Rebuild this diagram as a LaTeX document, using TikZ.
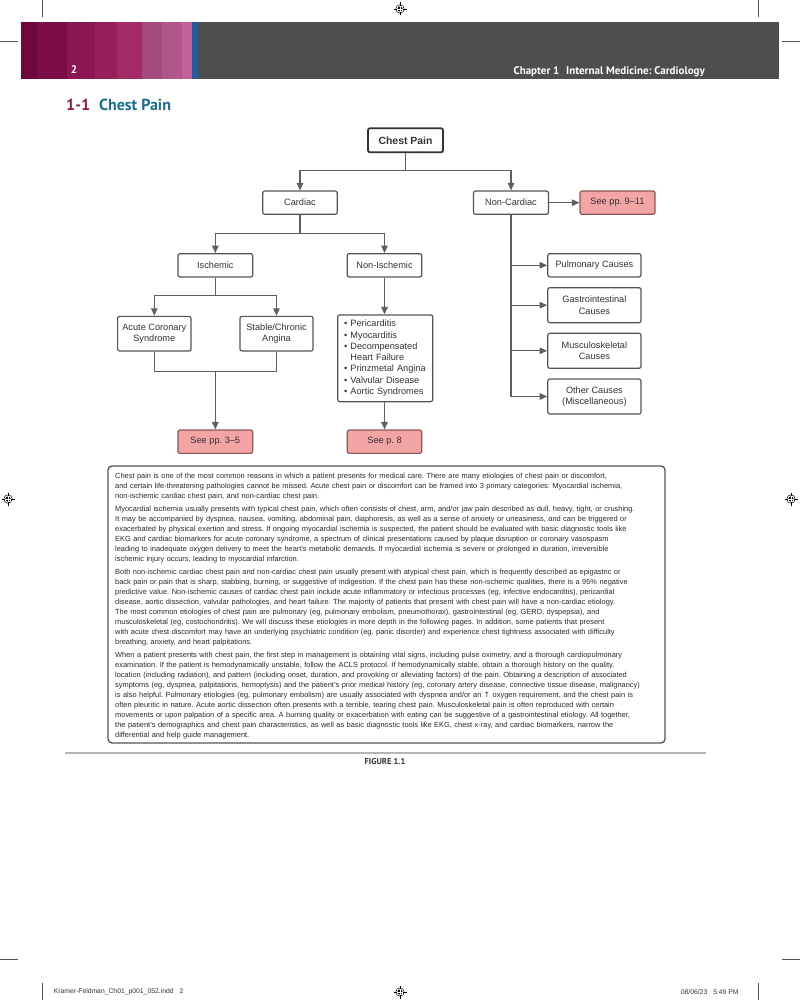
\documentclass[tikz,border=0pt]{standalone}
\usepackage{fontspec}
\setmainfont{Liberation Sans}
\newfontfamily\ptsans{PT Sans}
\newfontfamily\djv{DejaVu Sans}
\usetikzlibrary{arrows.meta}
\frenchspacing
\definecolor{bandA}{HTML}{6E083C}
\definecolor{bandB}{HTML}{7C0C48}
\definecolor{bandC}{HTML}{8A1752}
\definecolor{bandD}{HTML}{962059}
\definecolor{bandE}{HTML}{A52A68}
\definecolor{bandF}{HTML}{A34A7E}
\definecolor{bandG}{HTML}{B0568A}
\definecolor{bandH}{HTML}{C2609C}
\definecolor{bandblue}{HTML}{1F5FA0}
\definecolor{bandgray}{HTML}{4E4E4E}
\definecolor{titlered}{HTML}{8A1C4A}
\definecolor{titleblue}{HTML}{1B6F8F}
\definecolor{boxgray}{HTML}{555555}
\definecolor{lngray}{HTML}{5F5F5F}
\definecolor{txtgray}{HTML}{333333}
\definecolor{pinkfill}{HTML}{F3A5A5}
\definecolor{pinkdraw}{HTML}{8C5858}
\definecolor{sepgray}{HTML}{B5B5B5}
\definecolor{bodytext}{HTML}{2A2A2A}
\definecolor{markgray}{HTML}{555555}
\begin{document}
\begin{tikzpicture}[x=1pt,y=-1pt,
  box/.style={draw=boxgray, line width=1.2pt, rounded corners=2pt, fill=white,
    text=txtgray, font=\fontsize{9.2}{11.3}\selectfont, align=center, inner sep=0pt},
  pinkbox/.style={box, fill=pinkfill, draw=pinkdraw},
  conn/.style={draw=lngray, line width=1.2pt},
  arr/.style={conn, -{Triangle[length=7.5pt,width=6.5pt]}},
  regmark/.pic={
    \draw[line width=0.5pt] (0,0) circle (4.2);
    \draw[line width=0.5pt] (-6.5,0)--(6.5,0) (0,-6.5)--(0,6.5);
    \fill (0,0) circle (2.6);
    \draw[white, line width=0.5pt] (-2.6,0)--(2.6,0) (0,-2.6)--(0,2.6);
  }]
\useasboundingbox (0,0) rectangle (800,1000);
\fill[white] (0,0) rectangle (800,1000);

% crop and registration marks
\draw[markgray, line width=0.6pt] (42,0)--(42,17) (758,0)--(758,17)
  (0,41)--(18,41) (782,41)--(800,41)
  (42,983)--(42,1000) (758,983)--(758,1000)
  (0,959)--(18,959) (782,959)--(800,959);
\pic at (400,9) {regmark};
\pic at (8,499) {regmark};
\pic at (791,499) {regmark};
\pic at (400,992) {regmark};

% header band
\fill[bandA] (21,21.7) rectangle (37,79);
\fill[bandB] (37,21.7) rectangle (67,79);
\fill[bandC] (67,21.7) rectangle (95,79);
\fill[bandD] (95,21.7) rectangle (117,79);
\fill[bandE] (117,21.7) rectangle (142,79);
\fill[bandF] (142,21.7) rectangle (162,79);
\fill[bandG] (162,21.7) rectangle (182,79);
\fill[bandH] (182,21.7) rectangle (192,79);
\fill[bandblue] (192,21.7) rectangle (198,79);
\fill[bandgray] (198,21.7) rectangle (779,79);
\node[anchor=base, inner sep=0pt, text=white, font=\ptsans\bfseries\fontsize{11}{13}\selectfont] (pagenum) at (74,74) {2};
\node[anchor=base east, inner sep=0pt, text=white, font=\ptsans\bfseries\fontsize{11}{13}\selectfont] (chapter) at (705,74.5) {Chapter 1\hspace{4pt} Internal Medicine: Cardiology};

% title
\node[anchor=base west, inner sep=0pt, font=\ptsans\bfseries\fontsize{16}{18}\selectfont] (title) at (66,110.5) {\textcolor{titlered}{1-1}\hspace{5pt} \textcolor{titleblue}{Chest Pain}};

% flowchart nodes
\node[box, draw=txtgray, line width=1.8pt, font=\bfseries\fontsize{10.4}{12}\selectfont, minimum width=75, minimum height=24] (chest) at (405.5,140.3) {Chest Pain};
\node[box, minimum width=74.5, minimum height=23.3] (cardiac) at (300,202.7) {Cardiac};
\node[box, minimum width=75, minimum height=23.3] (noncardiac) at (511,202.7) {Non-Cardiac};
\node[pinkbox, minimum width=75, minimum height=23.3] (see911) at (617.5,202.7) {See pp. 9–11};
\node[box, minimum width=74.7, minimum height=23.3] (ischemic) at (215.3,265.3) {Ischemic};
\node[box, minimum width=74.5, minimum height=23.3] (nonisch) at (384.5,265.3) {Non-Ischemic};
\node[box, minimum width=73.4, minimum height=34.7] (acs) at (154.3,333.7) {Acute Coronary\\Syndrome};
\node[box, minimum width=73, minimum height=34.7] (stable) at (276.5,333.7) {Stable/Chronic\\Angina};
\node[box, align=left, text width=82, minimum width=95, minimum height=86.7] (list) at (385.2,358.3)
  {\textbullet\ Pericarditis\\
   \textbullet\ Myocarditis\\
   \textbullet\ Decompensated\\
   \hphantom{\textbullet\ }Heart Failure\\
   \textbullet\ Prinzmetal Angina\\
   \textbullet\ Valvular Disease\\
   \textbullet\ Aortic Syndromes};
\node[pinkbox, minimum width=74.7, minimum height=23.3] (see35) at (215.3,441.7) {See pp. 3–5};
\node[pinkbox, minimum width=74.4, minimum height=23.3] (see8) at (384.5,441.7) {See p. 8};
\node[box, minimum width=93.2, minimum height=23.3] (pulm) at (594.4,265.3) {Pulmonary Causes};
\node[box, minimum width=93.2, minimum height=35] (gi) at (594.4,305.2) {Gastrointestinal\\Causes};
\node[box, minimum width=93.2, minimum height=35] (musc) at (594.4,350.8) {Musculoskeletal\\Causes};
\node[box, minimum width=93.2, minimum height=35] (other) at (594.4,396.5) {Other Causes\\(Miscellaneous)};

% connectors
\coordinate (j1) at (405.5,170.7);
\coordinate (j2) at (300,233.3);
\coordinate (j3) at (215.3,295.3);
\coordinate (j4) at (215.3,371.7);
\coordinate (j5) at (511,396.5);
\draw[conn] (chest.south) -- (j1);
\draw[arr] (j1) -| (cardiac.north);
\draw[arr] (j1) -| (noncardiac.north);
\draw[arr] (noncardiac.east) -- (see911.west);
\draw[conn] (cardiac.south) -- (j2);
\draw[arr] (j2) -| (ischemic.north);
\draw[arr] (j2) -| (nonisch.north);
\draw[conn] (ischemic.south) -- (j3);
\draw[arr] (j3) -| (acs.north);
\draw[arr] (j3) -| (stable.north);
\draw[conn] (acs.south) |- (j4);
\draw[conn] (stable.south) |- (j4);
\draw[arr] (j4) -- (see35.north);
\draw[arr, line width=1.6pt] (nonisch.south) -- (nonisch.south |- list.north);
\draw[arr] (see8.north |- list.south) -- (see8.north);
\draw[conn] (noncardiac.south) -- (j5);
\draw[arr] (pulm.west -| j5) -- (pulm.west);
\draw[arr] (gi.west -| j5) -- (gi.west);
\draw[arr] (musc.west -| j5) -- (musc.west);
\draw[arr] (j5) -- (other.west);

% text box
\draw[boxgray, line width=1.3pt, rounded corners=4pt] (108,466) rectangle (665,743);
\node[anchor=base west, inner sep=0pt, text width=560, align=left, text=bodytext,
  font=\fontsize{7.43}{10}\selectfont] (body) at (115,478.5) {%
Chest pain is one of the most common reasons in which a patient presents for medical care. There are many etiologies of chest pain or discomfort,\\
and certain life-threatening pathologies cannot be missed. Acute chest pain or discomfort can be framed into 3 primary categories: Myocardial ischemia,\\
non-ischemic cardiac chest pain, and non-cardiac chest pain.\\[3pt]
Myocardial ischemia usually presents with typical chest pain, which often consists of chest, arm, and/or jaw pain described as dull, heavy, tight, or crushing.\\
It may be accompanied by dyspnea, nausea, vomiting, abdominal pain, diaphoresis, as well as a sense of anxiety or uneasiness, and can be triggered or\\
exacerbated by physical exertion and stress. If ongoing myocardial ischemia is suspected, the patient should be evaluated with basic diagnostic tools like\\
EKG and cardiac biomarkers for acute coronary syndrome, a spectrum of clinical presentations caused by plaque disruption or coronary vasospasm\\
leading to inadequate oxygen delivery to meet the heart's metabolic demands. If myocardial ischemia is severe or prolonged in duration, irreversible\\
ischemic injury occurs, leading to myocardial infarction.\\[3pt]
Both non-ischemic cardiac chest pain and non-cardiac chest pain usually present with atypical chest pain, which is frequently described as epigastric or\\
back pain or pain that is sharp, stabbing, burning, or suggestive of indigestion. If the chest pain has these non-ischemic qualities, there is a 95\% negative\\
predictive value. Non-ischemic causes of cardiac chest pain include acute inflammatory or infectious processes (eg, infective endocarditis), pericardial\\
disease, aortic dissection, valvular pathologies, and heart failure. The majority of patients that present with chest pain will have a non-cardiac etiology.\\
The most common etiologies of chest pain are pulmonary (eg, pulmonary embolism, pneumothorax), gastrointestinal (eg, GERD, dyspepsia), and\\
musculoskeletal (eg, costochondritis). We will discuss these etiologies in more depth in the following pages. In addition, some patients that present\\
with acute chest discomfort may have an underlying psychiatric condition (eg, panic disorder) and experience chest tightness associated with difficulty\\
breathing, anxiety, and heart palpitations.\\[3pt]
When a patient presents with chest pain, the first step in management is obtaining vital signs, including pulse oximetry, and a thorough cardiopulmonary\\
examination. If the patient is hemodynamically unstable, follow the ACLS protocol. If hemodynamically stable, obtain a thorough history on the quality,\\
location (including radiation), and pattern (including onset, duration, and provoking or alleviating factors) of the pain. Obtaining a description of associated\\
symptoms (eg, dyspnea, palpitations, hemoptysis) and the patient's prior medical history (eg, coronary artery disease, connective tissue disease, malignancy)\\
is also helpful. Pulmonary etiologies (eg, pulmonary embolism) are usually associated with dyspnea and/or an {\djv ↑} oxygen requirement, and the chest pain is\\
often pleuritic in nature. Acute aortic dissection often presents with a terrible, tearing chest pain. Musculoskeletal pain is often reproduced with certain\\
movements or upon palpation of a specific area. A burning quality or exacerbation with eating can be suggestive of a gastrointestinal etiology. All together,\\
the patient's demographics and chest pain characteristics, as well as basic diagnostic tools like EKG, chest x-ray, and cardiac biomarkers, narrow the\\
differential and help guide management.};

% separator and caption
\draw[sepgray, line width=1.3pt] (65,753)--(705.6,753);
\node[inner sep=0pt, text=txtgray, font=\ptsans\bfseries\fontsize{8.5}{10}\selectfont] (caption) at (385,761.7) {FIGURE 1.1};

% footer
\node[anchor=west, inner sep=0pt, text=txtgray, font=\fontsize{6.8}{8}\selectfont] (footl) at (53.6,992) {Kramer-Feldman\_Ch01\_p001\_052.indd\hspace{6pt}2};
\node[anchor=east, inner sep=0pt, text=txtgray, font=\fontsize{6.8}{8}\selectfont] (footr) at (738.8,992) {08/06/23\hspace{6pt}5:49 PM};
\end{tikzpicture}
\end{document}
